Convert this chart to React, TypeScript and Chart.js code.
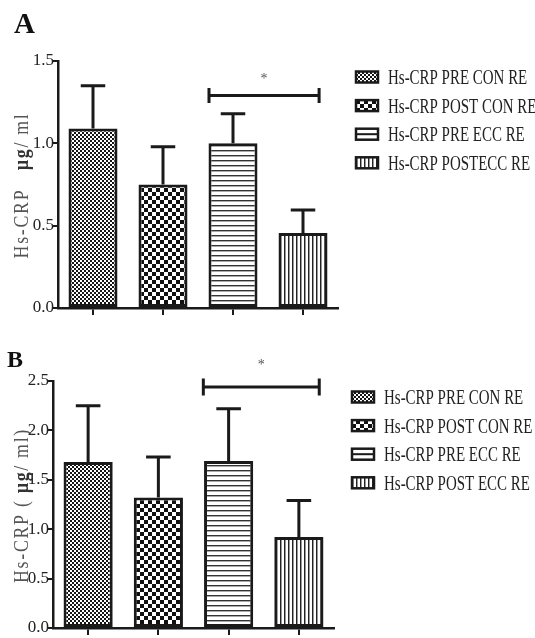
import React, { useEffect, useRef } from "react";
import { Chart, registerables } from "chart.js";
Chart.register(...registerables);

// ---------- data ----------
const categoriesA = ["Hs-CRP PRE CON RE", "Hs-CRP POST CON RE", "Hs-CRP PRE ECC RE", "Hs-CRP POSTECC RE"];
const categoriesB = ["Hs-CRP PRE CON RE", "Hs-CRP POST CON RE", "Hs-CRP PRE ECC RE", "Hs-CRP POST ECC RE"];
const meansA = [1.09, 0.75, 1.0, 0.455];
const errA = [0.26, 0.23, 0.18, 0.14];
const meansB = [1.68, 1.32, 1.69, 0.92];
const errB = [0.57, 0.41, 0.53, 0.37];
const yTicksA = [0, 0.5, 1.0, 1.5];
const yTicksB = [0, 0.5, 1.0, 1.5, 2.0, 2.5];
// significance bracket: [from category index, to category index, value]
const bracketA = [1.657, 3.23, 1.29];
const bracketB = [1.64, 3.29, 2.44];
const sigLabel = "*";
const titleA = [
  { text: "Hs-CRP", bold: false },
  { text: "   ", bold: false },
  { text: "µg", bold: true },
  { text: "/ ml", bold: false },
];
const titleB = [
  { text: "Hs-CRP", bold: false },
  { text: " ( ", bold: false },
  { text: "µg", bold: true },
  { text: "/ ml)", bold: false },
];

// ---------- layout / style ----------
const SERIF = "'Liberation Serif', 'DejaVu Serif', serif";
const INK = "#1a1a1a";

type PanelCfg = {
  letter: string;
  letterSize: number;
  letterPos: [number, number];
  labels: string[];
  means: number[];
  errs: number[];
  ticks: number[];
  max: number;
  bracket: number[];
  sigOffset: number;
  bracketTick: number;
  title: { text: string; bold: boolean }[];
  top: number;
  height: number;
  area: { left: number; right: number; top: number; bottom: number };
};

const panels: PanelCfg[] = [
  {
    letter: "A",
    letterSize: 29,
    letterPos: [14, 33],
    labels: categoriesA,
    means: meansA,
    errs: errA,
    ticks: yTicksA,
    max: 1.5,
    bracket: bracketA,
    sigOffset: 16,
    bracketTick: 7.5,
    title: titleA,
    top: 0,
    height: 320,
    area: { left: 58, right: 338, top: 61, bottom: 308 },
  },
  {
    letter: "B",
    letterSize: 24,
    letterPos: [7, 47],
    labels: categoriesB,
    means: meansB,
    errs: errB,
    ticks: yTicksB,
    max: 2.5,
    bracket: bracketB,
    sigOffset: 22,
    bracketTick: 8.5,
    title: titleB,
    top: 320,
    height: 318,
    area: { left: 53, right: 334, top: 61, bottom: 308 },
  },
];

function makeTile(w: number, h: number, draw: (g: CanvasRenderingContext2D) => void) {
  const c = document.createElement("canvas");
  c.width = w;
  c.height = h;
  const g = c.getContext("2d")!;
  draw(g);
  return c;
}

function makePatterns(ctx: CanvasRenderingContext2D) {
  const fine = makeTile(4, 4, (g) => {
    g.fillStyle = "#151515";
    g.fillRect(0, 0, 4, 4);
    g.fillStyle = "#ffffff";
    g.fillRect(0, 0, 2, 2);
    g.fillRect(2, 2, 2, 2);
  });
  const coarse = makeTile(8, 8, (g) => {
    g.fillStyle = "#ffffff";
    g.fillRect(0, 0, 8, 8);
    g.fillStyle = "#111111";
    g.fillRect(0, 0, 4, 4);
    g.fillRect(4, 4, 4, 4);
  });
  const horiz = makeTile(4, 5, (g) => {
    g.fillStyle = "#ffffff";
    g.fillRect(0, 0, 4, 5);
    g.fillStyle = "#333333";
    g.fillRect(0, 0, 4, 1);
    g.fillStyle = "#aaaaaa";
    g.fillRect(0, 1, 4, 1);
  });
  const vert = makeTile(4, 1, (g) => {
    g.fillStyle = "#ffffff";
    g.fillRect(0, 0, 4, 1);
    g.fillStyle = "#222222";
    g.fillRect(0, 0, 1, 1);
    g.fillStyle = "#999999";
    g.fillRect(1, 0, 1, 1);
  });
  return [fine, coarse, horiz, vert].map((t) => ctx.createPattern(t, "repeat")!);
}

function Panel({ cfg }: { cfg: PanelCfg }) {
  const ref = useRef<HTMLCanvasElement | null>(null);
  useEffect(() => {
    const canvas = ref.current!;
    const ctx0 = canvas.getContext("2d")!;
    const pats = makePatterns(ctx0);
    const a = cfg.area;

    const overlay = {
      id: "overlay",
      afterDatasetsDraw(chart: any) {
        const ctx: CanvasRenderingContext2D = chart.ctx;
        const meta = chart.getDatasetMeta(0);
        const ys = chart.scales.y;
        const xs = chart.scales.x;
        ctx.save();
        ctx.strokeStyle = INK;
        ctx.lineWidth = 3;
        ctx.lineCap = "butt";
        meta.data.forEach((bar: any, i: number) => {
          const topPx = ys.getPixelForValue(cfg.means[i] + cfg.errs[i]);
          const half = bar.width / 4;
          ctx.beginPath();
          ctx.moveTo(bar.x, bar.y);
          ctx.lineTo(bar.x, topPx);
          ctx.moveTo(bar.x - half, topPx);
          ctx.lineTo(bar.x + half, topPx);
          ctx.stroke();
        });
        // bracket
        const b = cfg.bracket;
        const x1 = xs.getPixelForValue(b[0]);
        const x2 = xs.getPixelForValue(b[1]);
        const by = ys.getPixelForValue(b[2]);
        ctx.beginPath();
        ctx.moveTo(x1, by);
        ctx.lineTo(x2, by);
        ctx.moveTo(x1, by - cfg.bracketTick);
        ctx.lineTo(x1, by + cfg.bracketTick);
        ctx.moveTo(x2, by - cfg.bracketTick);
        ctx.lineTo(x2, by + cfg.bracketTick);
        ctx.stroke();
        ctx.fillStyle = "#555";
        ctx.font = `14px ${SERIF}`;
        ctx.textAlign = "center";
        ctx.textBaseline = "middle";
        ctx.fillText(sigLabel, (x1 + x2) / 2, by - cfg.sigOffset);
        ctx.restore();
      },
      afterDraw(chart: any) {
        const ctx: CanvasRenderingContext2D = chart.ctx;
        const ca = chart.chartArea;
        ctx.save();
        // panel letter
        ctx.fillStyle = "#111";
        ctx.font = `bold ${cfg.letterSize}px ${SERIF}`;
        ctx.textAlign = "left";
        ctx.textBaseline = "alphabetic";
        ctx.fillText(cfg.letter, cfg.letterPos[0], cfg.letterPos[1]);

        // legend
        const lx = ca.right + 18;
        cfg.labels.forEach((lab, i) => {
          const cy = ca.top + 16 + i * 28.6;
          const iw = 22;
          const ih = 11;
          const ix = lx;
          const iy = cy - ih / 2;
          if (i === 2) {
            ctx.fillStyle = "#fff";
            ctx.fillRect(ix, iy, iw, ih);
            ctx.fillStyle = INK;
            ctx.fillRect(ix, cy - 1, iw, 2);
          } else {
            ctx.fillStyle = pats[i];
            ctx.fillRect(ix, iy, iw, ih);
          }
          ctx.strokeStyle = INK;
          ctx.lineWidth = 2.5;
          ctx.strokeRect(ix, iy, iw, ih);
          ctx.save();
          ctx.translate(lx + 32, cy + 7);
          ctx.scale(0.68, 1);
          ctx.fillStyle = "#222";
          ctx.font = `22px ${SERIF}`;
          ctx.textAlign = "left";
          ctx.textBaseline = "alphabetic";
          ctx.fillText(lab, 0, 0);
          ctx.restore();
        });

        // y-axis title
        ctx.save();
        const cyT = (ca.top + ca.bottom) / 2 + 0;
        ctx.translate(28, cyT + 1);
        ctx.rotate(-Math.PI / 2);
        (ctx as any).letterSpacing = "2px";
        const sx = 0.85;
        const widths = cfg.title.map((s) => {
          ctx.font = `${s.bold ? "bold " : ""}21px ${SERIF}`;
          return ctx.measureText(s.text).width;
        });
        const total = widths.reduce((p, q) => p + q, 0);
        ctx.scale(sx, 1);
        let cx = -total / 2;
        ctx.textAlign = "left";
        ctx.textBaseline = "alphabetic";
        cfg.title.forEach((s, i) => {
          ctx.font = `${s.bold ? "bold " : ""}21px ${SERIF}`;
          ctx.fillStyle = s.bold ? "#333" : "#555";
          ctx.fillText(s.text, cx, 0);
          cx += widths[i];
        });
        ctx.restore();
        ctx.restore();
      },
    };

    const xAxisH = 9;
    const chart = new Chart(canvas, {
      type: "bar",
      data: {
        labels: cfg.labels,
        datasets: [
          {
            data: cfg.means,
            backgroundColor: pats as any,
            borderColor: INK,
            borderWidth: 3,
            borderSkipped: false,
            barPercentage: 0.7,
            categoryPercentage: 1,
          },
        ],
      },
      options: {
        responsive: false,
        animation: false,
        devicePixelRatio: 1,
        layout: {
          padding: {
            left: 0,
            right: canvas.width - a.right,
            top: a.top,
            bottom: cfg.height - a.bottom - xAxisH,
          },
        },
        plugins: { legend: { display: false }, tooltip: { enabled: false }, title: { display: false } },
        scales: {
          x: {
            type: "category",
            offset: true,
            grid: {
              display: true,
              drawOnChartArea: false,
              offset: false,
              drawTicks: true,
              tickLength: 7,
              color: INK,
              lineWidth: 2,
            },
            border: { display: true, color: INK, width: 2.5 },
            ticks: { display: false },
            afterFit: (s: any) => {
              s.height = xAxisH;
              s.paddingLeft = 0;
              s.paddingRight = 0;
            },
          },
          y: {
            min: 0,
            max: cfg.max,
            afterBuildTicks: (s: any) => {
              s.ticks = cfg.ticks.map((v) => ({ value: v }));
            },
            grid: {
              display: true,
              drawOnChartArea: false,
              drawTicks: true,
              tickLength: 5,
              color: INK,
              lineWidth: 2,
            },
            border: { display: true, color: INK, width: 2.5 },
            ticks: {
              color: "#222",
              padding: -1,
              font: { family: SERIF, size: 17 },
              callback: (v: any) => Number(v).toFixed(1),
            },
            afterFit: (s: any) => {
              s.width = a.left;
              s.paddingTop = 0;
              s.paddingBottom = 0;
            },
          },
        },
      } as any,
      plugins: [overlay],
    });
    return () => chart.destroy();
  }, [cfg]);
  return (
    <canvas
      ref={ref}
      width={535}
      height={cfg.height}
      style={{ position: "absolute", left: 0, top: cfg.top, width: 535, height: cfg.height, display: "block" }}
    />
  );
}

export default function App() {
  return (
    <div style={{ position: "fixed", left: 0, top: 0, width: 535, height: 638, background: "#fff" }}>
      {panels.map((p) => (
        <Panel key={p.letter} cfg={p} />
      ))}
    </div>
  );
}
